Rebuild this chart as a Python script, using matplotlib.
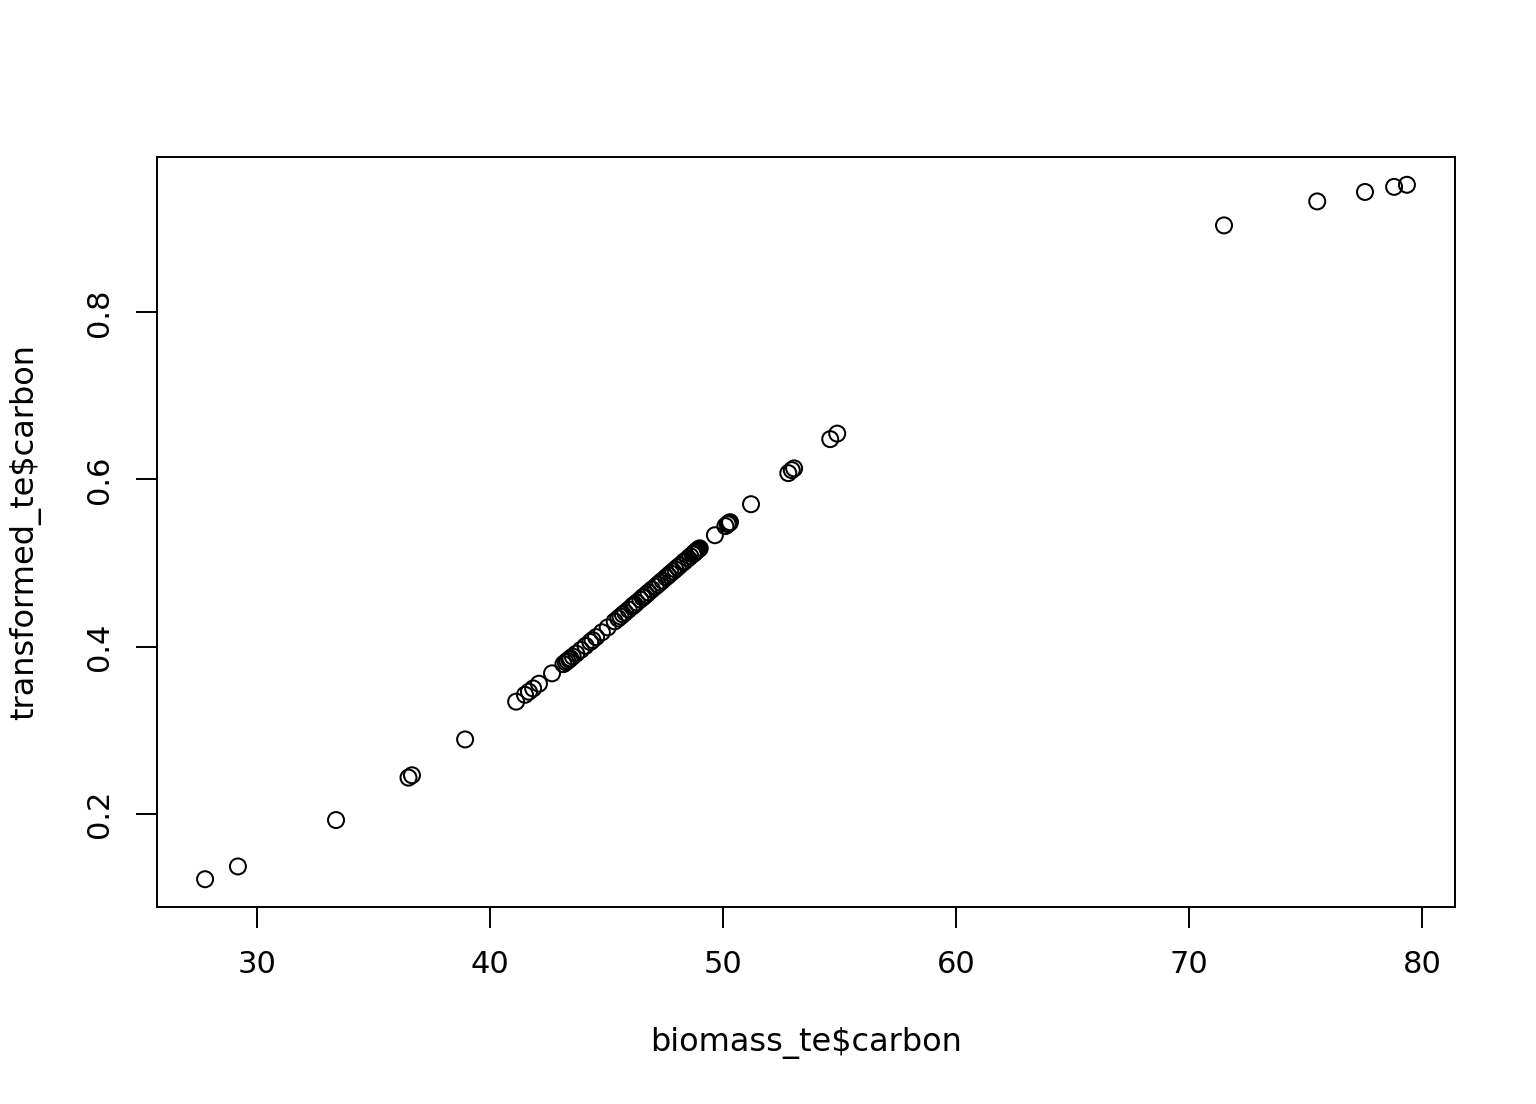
import matplotlib
matplotlib.use("Agg")
import matplotlib.pyplot as plt

carbon = [27.77, 29.18, 33.39, 36.50, 36.65, 38.93, 41.12, 41.50, 41.67, 41.85,
          42.10, 42.66, 43.15, 43.25, 43.32, 43.40, 43.45, 43.55, 43.70, 43.90,
          44.10, 44.30, 44.40, 44.55, 44.80, 45.05, 45.35, 45.50, 45.60, 45.70,
          45.80, 45.95, 46.10, 46.15, 46.20, 46.30, 46.45, 46.55, 46.60, 46.70,
          46.80, 46.95, 47.10, 47.20, 47.30, 47.40, 47.55, 47.65, 47.75, 47.85,
          47.95, 48.05, 48.15, 48.30, 48.35, 48.50, 48.60, 48.70, 48.75, 48.80,
          48.85, 48.90, 48.95, 49.00, 49.65, 50.10, 50.20, 50.25, 50.30, 51.20,
          52.80, 52.95, 53.05, 54.60, 54.90, 71.50, 75.50, 77.55, 78.80, 79.35]
transformed = [0.1215, 0.1368, 0.1923, 0.2431, 0.2459, 0.2888, 0.3340, 0.3422, 0.3459, 0.3498,
               0.3555, 0.3679, 0.3789, 0.3812, 0.3828, 0.3846, 0.3858, 0.3880, 0.3915, 0.3960,
               0.4008, 0.4054, 0.4077, 0.4112, 0.4170, 0.4229, 0.4301, 0.4336, 0.4359, 0.4384,
               0.4407, 0.4442, 0.4480, 0.4490, 0.4502, 0.4527, 0.4562, 0.4587, 0.4598, 0.4621,
               0.4647, 0.4683, 0.4717, 0.4742, 0.4766, 0.4789, 0.4827, 0.4850, 0.4875, 0.4898,
               0.4923, 0.4947, 0.4971, 0.5007, 0.5019, 0.5055, 0.5080, 0.5103, 0.5115, 0.5128,
               0.5140, 0.5152, 0.5165, 0.5175, 0.5332, 0.5441, 0.5464, 0.5476, 0.5488, 0.5703,
               0.6075, 0.6111, 0.6132, 0.6482, 0.6548, 0.9040, 0.9327, 0.9440, 0.9501, 0.9526]

x_ticks = [30, 40, 50, 60, 70, 80]
y_ticks = [0.2, 0.4, 0.6, 0.8]

plt.rcParams['font.family'] = ['DejaVu Sans']

fig = plt.figure(figsize=(15.36, 11.04), dpi=100)
ax = fig.add_axes([157 / 1536, 1 - 907 / 1104, (1455 - 157) / 1536, (907 - 157) / 1104])

ax.scatter(carbon, transformed, s=11.5 ** 2, facecolors="none", edgecolors="black", linewidths=1.45)

# R style 4% padding
xr = max(carbon) - min(carbon)
yr = max(transformed) - min(transformed)
ax.set_xlim(min(carbon) - 0.04 * xr, max(carbon) + 0.04 * xr)
ax.set_ylim(min(transformed) - 0.04 * yr, max(transformed) + 0.04 * yr)

ax.set_xticks(x_ticks)
ax.set_xticklabels([str(t) for t in x_ticks])
ax.set_yticks(y_ticks)
ax.set_yticklabels([f"{t:.1f}" for t in y_ticks], rotation=90, va="center")
ax.tick_params(length=15, width=1.4, labelsize=22, pad=16)
ax.tick_params(axis="y", pad=16)
for sp in ax.spines.values():
    sp.set_linewidth(1.4)

fig.text(806 / 1536, 1 - 1043 / 1104, "biomass_te$carbon", ha="center", va="center", fontsize=23)
fig.text(25 / 1536, 1 - 532 / 1104, "transformed_te$carbon", ha="center", va="center",
         rotation=90, fontsize=23)

fig.savefig("out.png", dpi=100, facecolor="white")
